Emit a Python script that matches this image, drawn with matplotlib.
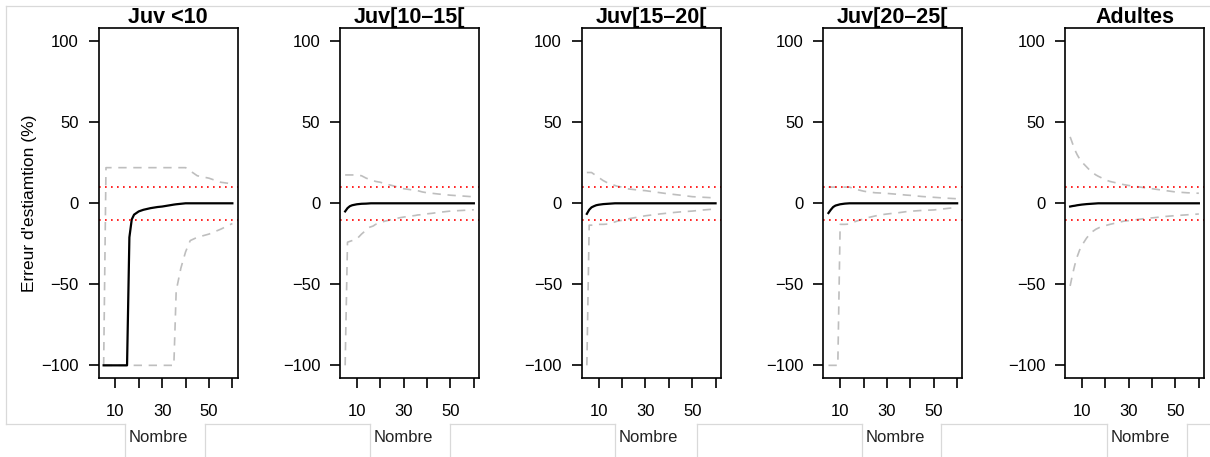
import matplotlib
matplotlib.use("Agg")
import matplotlib.pyplot as plt
from matplotlib.lines import Line2D

plt.rcParams["font.family"] = ["Liberation Sans", "DejaVu Sans"]

# sample size (x axis), shared by every panel
nombre = [5, 6, 7, 8, 9, 10, 12, 14, 15, 16, 17, 18, 20, 22, 25, 28, 30,
          35, 36, 38, 40, 42, 45, 50, 55, 60]

titles = ["Juv <10", "Juv[10\u201315[", "Juv[15\u201320[", "Juv[20\u201325[", "Adultes"]

# Juv <10
juv10_mean = [-100, -100, -100, -100, -100, -100, -100, -100, -100, -21, -10, -7, -5, -4,
              -3, -2.3, -2, -0.8, -0.6, -0.3, 0, 0, 0, 0, 0, 0]
juv10_high = [-100, 22, 22, 22, 22, 22, 22, 22, 22, 22, 22, 22, 22, 22, 22, 22, 22,
              22, 22, 22, 22, 20, 17, 15.5, 13, 12]
juv10_low = [-100, -100, -100, -100, -100, -100, -100, -100, -100, -100, -100, -100, -100,
             -100, -100, -100, -100, -100, -54, -40, -30, -23, -21, -19, -16, -12.5]

# Juv[10-15[
juv15_mean = [-5, -3, -1.8, -1.2, -0.9, -0.6, -0.3, -0.2, -0.1, 0, 0, 0, 0, 0, 0, 0, 0,
              0, 0, 0, 0, 0, 0, 0, 0, 0]
juv15_high = [17.5, 17.5, 17.5, 17.5, 17.5, 17.5, 17, 15.5, 15, 14.5, 14, 13.5, 13, 12,
              11, 9.8, 9, 8, 7.8, 7, 6.5, 6.2, 5.7, 5, 4.5, 4]
juv15_low = [-100, -24, -23.5, -23, -22.5, -22, -19, -16.5, -15, -14.5, -14, -13, -12, -11,
             -10, -9, -8.5, -7.5, -7.2, -7, -6.5, -6.2, -5.6, -4.8, -4.4, -4]

# Juv[15-20[
juv20_mean = [-6.5, -4, -2.5, -1.8, -1.2, -0.9, -0.5, -0.3, -0.2, -0.1, 0, 0, 0, 0, 0, 0,
              0, 0, 0, 0, 0, 0, 0, 0, 0, 0]
juv20_high = [19, 19, 19, 18, 17, 16, 14, 12.5, 12, 11.5, 11, 10.5, 10, 9, 8.5, 8, 7.8,
              6.8, 6.6, 6.2, 5.8, 5.5, 5, 4.1, 3.7, 3.3]
juv20_low = [-100, -13.5, -13.5, -13.3, -13.2, -13, -13, -12.8, -12.5, -12, -11.5, -11,
             -10.5, -9.8, -9, -8.2, -7.7, -6.8, -6.6, -6.3, -6, -5.7, -5.3, -4.8, -4.1, -3.5]

# Juv[20-25[
juv25_mean = [-6, -4, -2.3, -1.4, -1, -0.6, -0.2, 0, 0, 0, 0, 0, 0, 0, 0, 0, 0,
              0, 0, 0, 0, 0, 0, 0, 0, 0]
juv25_high = [10, 10, 10, 10, 10, 10, 10, 10, 9.5, 9, 8.6, 8.2, 7.5, 7, 6.5, 6.3, 6.1,
              5.5, 5.4, 5.1, 4.9, 4.6, 4.2, 3.7, 3.2, 2.8]
juv25_low = [-100, -100, -100, -100, -100, -13, -13, -12.8, -12, -11.5, -11, -10.5, -9.7,
             -8.8, -7.8, -7, -6.6, -5.8, -5.6, -5.2, -4.9, -4.7, -4.4, -4.1, -3.3, -2.5]

# Adultes
adult_mean = [-2, -1.7, -1.5, -1.2, -1, -0.8, -0.5, -0.3, -0.2, -0.1, 0, 0, 0, 0, 0, 0,
              0, 0, 0, 0, 0, 0, 0, 0, 0, 0]
adult_high = [41, 37, 33, 30, 27.5, 25.5, 22.5, 19.5, 18.5, 17.5, 16.7, 16, 14.5, 13.5,
              12.5, 11.5, 11, 10, 9.8, 9.3, 9, 8.6, 8, 7, 6.5, 6.2]
adult_low = [-51, -44, -38, -33, -29, -26, -21.5, -18, -17, -16, -15.3, -14.6, -13.8, -13,
             -12, -11, -10.7, -9.8, -9.6, -9.2, -9, -8.7, -8.2, -7.6, -7.1, -6.6]

means = [juv10_mean, juv15_mean, juv20_mean, juv25_mean, adult_mean]
highs = [juv10_high, juv15_high, juv20_high, juv25_high, adult_high]
lows = [juv10_low, juv15_low, juv20_low, juv25_low, adult_low]

W, H = 1210, 457
fig = plt.figure(figsize=(W / 100, H / 100), dpi=100)

lefts = [98.5, 340, 581.7, 823.3, 1065]
ax_w, ax_top, ax_bot = 139, 28.3, 378.3

for i, left in enumerate(lefts):
    ax = fig.add_axes([left / W, 1 - ax_bot / H, ax_w / W, (ax_bot - ax_top) / H])
    ax.plot(nombre, highs[i], color="#bebebe", lw=1.2, ls=(0, (5, 4)))
    ax.plot(nombre, lows[i], color="#bebebe", lw=1.2, ls=(0, (5, 4)))
    ax.plot(nombre, means[i], color="black", lw=1.6)
    for h in (10, -10):
        ax.axhline(h, color="red", lw=1.2, ls=(0, (1, 2.6)))
    ax.set_xlim(2.8, 62.2)
    ax.set_ylim(-108, 108)
    ax.set_xticks([10, 20, 30, 40, 50, 60])
    ax.set_xticklabels(["10", "", "30", "", "50", ""])
    ax.set_yticks([-100, -50, 0, 50, 100])
    ax.set_yticklabels(["\u2212100", "\u221250", "0", "50", "100"])
    ax.tick_params(axis="both", length=7.2, width=1.2, labelsize=12)
    ax.tick_params(axis="y", pad=7)
    ax.tick_params(axis="x", pad=11)
    for s in ax.spines.values():
        s.set_linewidth(1.2)
    ax.set_title(titles[i], fontsize=15.5, fontweight="bold", pad=3)

fig.text(30 / W, 1 - 203 / H, "Erreur d'estiamtion (%)", rotation=90,
         ha="center", va="center", fontsize=12.5)

# light frame of the surrounding table
frame = "#d9d9d9"
def seg(x0, y0, x1, y1):
    fig.add_artist(Line2D([x0 / W, x1 / W], [1 - y0 / H, 1 - y1 / H],
                          color=frame, lw=0.9, transform=fig.transFigure))

seg(6, 6, W, 6)
seg(6, 6, 6, 424)
cells = [(125, 205), (370, 450), (615, 697), (862, 941), (1107, 1187)]
prev = 6
for a, b in cells:
    seg(prev, 424, a, 424)
    seg(a, 424, a, H)
    seg(b, 424, b, H)
    fig.text((a + 4) / W, 1 - 438 / H, "Nombre", ha="left", va="center",
             fontsize=12, color="#222222")
    prev = b
seg(prev, 424, W, 424)

fig.savefig("out.png", dpi=100)
